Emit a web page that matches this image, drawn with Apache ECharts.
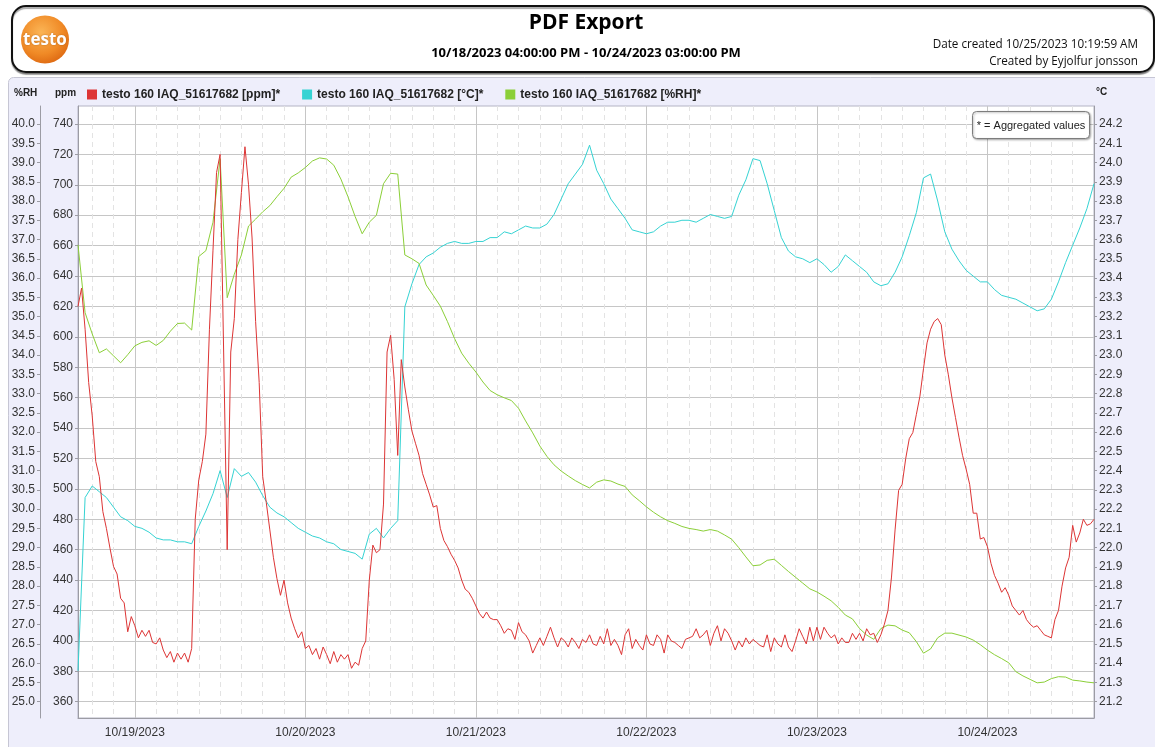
<!DOCTYPE html>
<html>
<head>
<meta charset="utf-8">
<title>PDF Export</title>
<script src="https://cdn.jsdelivr.net/npm/echarts@6/dist/echarts.min.js"></script>
<style>
  html, body { margin: 0; padding: 0; background: #ffffff; }
  #chart { width: 1155px; height: 747px; }
</style>
</head>
<body>
<div id="chart"></div>
<script>
// Logger channel names
const seriesNames = [
  'testo 160 IAQ_51617682 [ppm]*',
  'testo 160 IAQ_51617682 [°C]*',
  'testo 160 IAQ_51617682 [%RH]*'
];

// CO2 [ppm], one reading every 30 minutes from 10/18/2023 16:00
const ppmValues = [
  620, 632, 605, 570, 548, 518, 508, 485, 474, 461, 449, 444, 428, 425, 406, 416, 410, 402, 407, 403, 407, 399, 398, 402,
  394, 389, 393, 386, 392, 388, 392, 386, 395, 480, 506, 518, 536, 605, 657, 708, 720, 590, 460, 590, 612, 664, 695, 725,
  700, 665, 610, 570, 508, 491, 473, 455, 441, 430, 440, 425, 415, 408, 402, 406, 395, 397, 391, 395, 388, 396, 391, 385,
  393, 386, 391, 388, 391, 382, 386, 384, 395, 400, 440, 463, 458, 460, 490, 590, 601, 572, 522, 585, 567, 552, 538, 530,
  522, 510, 503, 496, 488, 489, 474, 466, 462, 457, 453, 448, 440, 434, 432, 428, 423, 418, 415, 419, 415, 414, 414, 410,
  405, 408, 407, 401, 412, 406, 404, 400, 392, 397, 402, 397, 403, 409, 402, 396, 402, 400, 396, 402, 399, 395, 401, 399,
  404, 398, 397, 403, 398, 408, 397, 401, 397, 391, 404, 408, 395, 401, 397, 394, 404, 398, 397, 404, 401, 392, 404, 400,
  399, 397, 395, 401, 402, 403, 408, 402, 404, 407, 397, 405, 410, 400, 408, 405, 400, 394, 400, 396, 402, 398, 401, 399,
  397, 396, 404, 393, 402, 398, 396, 404, 396, 393, 400, 408, 403, 398, 409, 400, 409, 401, 409, 405, 402, 404, 398, 402,
  399, 399, 405, 401, 405, 400, 408, 404, 405, 399, 404, 411, 420, 442, 473, 499, 503, 520, 533, 537, 549, 561, 579, 596,
  605, 610, 612, 608, 588, 575, 560, 547, 534, 522, 513, 503, 484, 484, 467, 468, 462, 451, 443, 438, 432, 435, 430, 423,
  420, 417, 420, 414, 411, 409, 410, 407, 404, 403, 402, 414, 420, 436, 448, 455, 476, 465, 471, 480, 476, 477, 480
];

// Temperature [°C], hourly from 10/18/2023 16:00
const tempValues = [
  21.36, 22.26, 22.32, 22.29, 22.26, 22.21, 22.16, 22.14, 22.11, 22.10, 22.08, 22.05,
  22.04, 22.04, 22.03, 22.03, 22.02, 22.11, 22.19, 22.28, 22.40, 22.26, 22.41, 22.37,
  22.39, 22.34, 22.27, 22.21, 22.18, 22.16, 22.13, 22.10, 22.08, 22.06, 22.05, 22.03,
  22.02, 21.99, 21.98, 21.97, 21.94, 22.07, 22.10, 22.05, 22.10, 22.14, 23.25, 23.37,
  23.47, 23.51, 23.53, 23.56, 23.58, 23.59, 23.58, 23.58, 23.59, 23.59, 23.61, 23.61,
  23.64, 23.63, 23.65, 23.67, 23.66, 23.66, 23.68, 23.73, 23.81, 23.89, 23.94, 23.99,
  24.09, 23.96, 23.89, 23.81, 23.76, 23.71, 23.65, 23.64, 23.63, 23.64, 23.67, 23.69,
  23.69, 23.70, 23.70, 23.69, 23.71, 23.73, 23.72, 23.71, 23.72, 23.83, 23.91, 24.02,
  24.01, 23.89, 23.75, 23.61, 23.54, 23.51, 23.50, 23.48, 23.50, 23.47, 23.43, 23.46,
  23.52, 23.49, 23.46, 23.43, 23.38, 23.36, 23.37, 23.43, 23.51, 23.62, 23.74, 23.92,
  23.94, 23.80, 23.64, 23.55, 23.49, 23.44, 23.41, 23.38, 23.38, 23.34, 23.31, 23.30,
  23.29, 23.27, 23.25, 23.23, 23.24, 23.29, 23.38, 23.48, 23.57, 23.66, 23.76, 23.89
];

// Relative humidity [%RH], hourly from 10/18/2023 16:00
const rhValues = [
  36.86, 35.10, 34.55, 34.06, 34.16, 33.98, 33.80, 34.01, 34.24, 34.33, 34.37, 34.25,
  34.38, 34.62, 34.82, 34.83, 34.65, 36.56, 36.71, 37.45, 39.10, 35.49, 36.10, 36.60,
  37.35, 37.53, 37.72, 37.88, 38.11, 38.33, 38.62, 38.73, 38.87, 39.04, 39.12, 39.09,
  38.93, 38.57, 38.11, 37.60, 37.15, 37.45, 37.63, 38.45, 38.72, 38.70, 36.60, 36.50,
  36.38, 35.82, 35.55, 35.27, 34.87, 34.43, 34.05, 33.79, 33.56, 33.30, 33.08, 32.97,
  32.89, 32.82, 32.62, 32.29, 31.98, 31.64, 31.37, 31.15, 30.99, 30.86, 30.74, 30.64,
  30.55, 30.70, 30.76, 30.73, 30.65, 30.59, 30.37, 30.22, 30.06, 29.92, 29.80, 29.70,
  29.63, 29.55, 29.50, 29.47, 29.43, 29.47, 29.43, 29.33, 29.22, 29.00, 28.76, 28.53,
  28.55, 28.67, 28.70, 28.54, 28.38, 28.23, 28.08, 27.93, 27.85, 27.74, 27.62, 27.45,
  27.25, 27.15, 26.90, 26.73, 26.62, 26.90, 26.99, 26.97, 26.86, 26.79, 26.56, 26.26,
  26.37, 26.66, 26.78, 26.78, 26.73, 26.68, 26.60, 26.48, 26.34, 26.22, 26.12, 26.01,
  25.78, 25.67, 25.58, 25.49, 25.51, 25.60, 25.65, 25.64, 25.56, 25.54, 25.51, 25.49
];

// Axis tick labels
const ppmTicks = [360, 380, 400, 420, 440, 460, 480, 500, 520, 540, 560, 580, 600, 620, 640, 660, 680, 700, 720, 740];
const rhTicks = [25.0, 25.5, 26.0, 26.5, 27.0, 27.5, 28.0, 28.5, 29.0, 29.5, 30.0, 30.5, 31.0, 31.5, 32.0, 32.5,
                 33.0, 33.5, 34.0, 34.5, 35.0, 35.5, 36.0, 36.5, 37.0, 37.5, 38.0, 38.5, 39.0, 39.5, 40.0];
const tempTicks = [21.2, 21.3, 21.4, 21.5, 21.6, 21.7, 21.8, 21.9, 22.0, 22.1, 22.2, 22.3, 22.4, 22.5, 22.6, 22.7,
                   22.8, 22.9, 23.0, 23.1, 23.2, 23.3, 23.4, 23.5, 23.6, 23.7, 23.8, 23.9, 24.0, 24.1, 24.2];
const dayTicks = [19, 20, 21, 22, 23, 24].map(d => new Date(2023, 9, d).getTime());

const START = new Date(2023, 9, 18, 16, 0, 0).getTime();
const END = new Date(2023, 9, 24, 15, 0, 0).getTime();
const HOUR = 3600 * 1000;

// dashed guide lines every 3 hours between the day lines
const threeHourTicks = [];
for (let t = new Date(2023, 9, 18, 18).getTime(); t <= END; t += 3 * HOUR) {
  if (new Date(t).getHours() !== 0) threeHourTicks.push(t);
}

const ppmData = ppmValues.map((v, i) => [START + i * HOUR / 2, v]);
const tempData = tempValues.map((v, i) => [START + i * HOUR, v]);
const rhData = rhValues.map((v, i) => [START + i * HOUR, v]);

const pad = n => (n < 10 ? '0' : '') + n;
const fmtDay = v => { const d = new Date(v); return pad(d.getMonth() + 1) + '/' + pad(d.getDate()) + '/' + d.getFullYear(); };

const AXIS_GREY = '#9c9ca4';
const LABEL_FONT = { color: '#333333', fontSize: 12, fontFamily: '"Liberation Sans", Arial, sans-serif' };

const chart = echarts.init(document.getElementById('chart'), null, { renderer: 'canvas' });

chart.setOption({
  animation: false,
  backgroundColor: 'transparent',
  color: ['#dd3535', '#35d3d3', '#8bcf38'],
  grid: {
    left: 78, right: 61, top: 106, bottom: 29,
    show: true, backgroundColor: '#ffffff', borderColor: '#b4b4c4', borderWidth: 1
  },
  legend: {
    left: 87, top: 88.5, padding: 0,
    icon: 'rect', itemWidth: 10, itemHeight: 10, itemGap: 22,
    textStyle: { color: '#222222', fontSize: 12, fontWeight: 'bold', fontFamily: '"Liberation Sans", Arial, sans-serif' },
    data: seriesNames
  },
  xAxis: [
    {
      type: 'value', min: START, max: END, scale: true,
      axisLine: { show: true, onZero: false, lineStyle: { color: AXIS_GREY } },
      axisTick: { show: false, customValues: dayTicks },
      axisLabel: Object.assign({ customValues: dayTicks, formatter: fmtDay, margin: 9 }, LABEL_FONT),
      splitLine: { show: true, lineStyle: { color: '#c6c6c6', width: 1 } }
    },
    {
      type: 'value', min: START, max: END, scale: true, position: 'top',
      axisLine: { show: false, onZero: false },
      axisTick: { show: false, customValues: threeHourTicks },
      axisLabel: { show: false, customValues: threeHourTicks },
      splitLine: { show: true, lineStyle: { color: '#e3e3e3', width: 1, type: [5, 4] } }
    }
  ],
  yAxis: [
    {
      type: 'value', position: 'left', min: 349.3, max: 751.8,
      axisLine: { show: true, onZero: false, lineStyle: { color: AXIS_GREY } },
      axisTick: { show: true, length: 3, customValues: ppmTicks, lineStyle: { color: AXIS_GREY } },
      axisLabel: Object.assign({ customValues: ppmTicks, margin: 5 }, LABEL_FONT),
      splitLine: { show: true, lineStyle: { color: '#c6c6c6', width: 1 } }
    },
    {
      type: 'value', position: 'left', offset: 38, min: 24.577, max: 40.467,
      axisLine: { show: true, onZero: false, lineStyle: { color: AXIS_GREY } },
      axisTick: { show: true, length: 3, customValues: rhTicks, lineStyle: { color: AXIS_GREY } },
      axisLabel: Object.assign({ customValues: rhTicks, margin: 5, formatter: v => v.toFixed(1) }, LABEL_FONT),
      splitLine: { show: false }
    },
    {
      type: 'value', position: 'right', min: 21.115, max: 24.2935,
      axisLine: { show: true, onZero: false, lineStyle: { color: AXIS_GREY } },
      axisTick: { show: true, length: 3, customValues: tempTicks, lineStyle: { color: AXIS_GREY } },
      axisLabel: Object.assign({ customValues: tempTicks, margin: 5, formatter: v => v.toFixed(1) }, LABEL_FONT),
      splitLine: { show: false }
    }
  ],
  series: [
    {
      name: seriesNames[0], type: 'line', xAxisIndex: 0, yAxisIndex: 0, data: ppmData,
      showSymbol: false, symbol: 'none', lineStyle: { width: 1 }, z: 3
    },
    {
      name: seriesNames[1], type: 'line', xAxisIndex: 0, yAxisIndex: 2, data: tempData,
      showSymbol: false, symbol: 'none', lineStyle: { width: 1 }, z: 2
    },
    {
      name: seriesNames[2], type: 'line', xAxisIndex: 0, yAxisIndex: 1, data: rhData,
      showSymbol: false, symbol: 'none', lineStyle: { width: 1 }, z: 2
    }
  ],
  graphic: [
    // chart panel
    { type: 'rect', z: -10, silent: true,
      shape: { x: 8.5, y: 77.5, width: 1160, height: 700, r: 5 },
      style: { fill: '#eeeefb', stroke: '#c6c6d4', lineWidth: 1 } },
    // report header
    { type: 'rect', z: 5, silent: true,
      shape: { x: 12, y: 6, width: 1142, height: 66, r: 14 },
      style: { fill: '#ffffff', stroke: '#111111', lineWidth: 2,
               shadowColor: 'rgba(0,0,0,0.35)', shadowBlur: 1, shadowOffsetX: 0, shadowOffsetY: 2 } },
    { type: 'circle', z: 6, silent: true,
      shape: { cx: 45, cy: 39.5, r: 24 },
      style: { fill: { type: 'radial', x: 0.42, y: 0.35, r: 0.75,
                       colorStops: [{ offset: 0, color: '#fbb556' }, { offset: 0.6, color: '#f08a26' }, { offset: 1, color: '#d9600c' }] } } },
    { type: 'text', z: 7, silent: true, x: 45, y: 40,
      style: { text: 'testo', fill: '#ffffff', font: 'bold 17px "Open Sans", sans-serif', align: 'center', verticalAlign: 'middle',
               textShadowColor: 'rgba(120,50,0,0.5)', textShadowBlur: 2 } },
    { type: 'text', z: 7, silent: true, x: 586, y: 23,
      style: { text: 'PDF Export', fill: '#000000', font: 'bold 21px "Open Sans", sans-serif', align: 'center', verticalAlign: 'middle' } },
    { type: 'text', z: 7, silent: true, x: 586, y: 53.5,
      style: { text: '10/18/2023 04:00:00 PM - 10/24/2023 03:00:00 PM', fill: '#000000', font: 'bold 13px "Open Sans", sans-serif', align: 'center', verticalAlign: 'middle' } },
    { type: 'text', z: 7, silent: true, x: 1138, y: 44.5,
      style: { text: 'Date created 10/25/2023 10:19:59 AM', fill: '#111111', font: '11.7px "Open Sans", sans-serif', align: 'right', verticalAlign: 'middle' } },
    { type: 'text', z: 7, silent: true, x: 1138, y: 61.5,
      style: { text: 'Created by Eyjolfur jonsson', fill: '#111111', font: '11.7px "Open Sans", sans-serif', align: 'right', verticalAlign: 'middle' } },
    // axis units
    { type: 'text', z: 7, silent: true, x: 14, y: 93,
      style: { text: '%RH', fill: '#222222', font: 'bold 10px "Liberation Sans", Arial, sans-serif', align: 'left', verticalAlign: 'middle' } },
    { type: 'text', z: 7, silent: true, x: 55, y: 93,
      style: { text: 'ppm', fill: '#222222', font: 'bold 10px "Liberation Sans", Arial, sans-serif', align: 'left', verticalAlign: 'middle' } },
    { type: 'text', z: 7, silent: true, x: 1096, y: 92,
      style: { text: '°C', fill: '#222222', font: 'bold 10px "Liberation Sans", Arial, sans-serif', align: 'left', verticalAlign: 'middle' } },
    // note box
    { type: 'rect', z: 20, silent: true,
      shape: { x: 972.5, y: 111.5, width: 117, height: 27, r: 4 },
      style: { fill: '#ffffff', stroke: '#7d7d7d', lineWidth: 1,
               shadowColor: 'rgba(0,0,0,0.3)', shadowBlur: 2, shadowOffsetX: 1, shadowOffsetY: 1 } },
    { type: 'text', z: 21, silent: true, x: 1031, y: 125.5,
      style: { text: '* = Aggregated values', fill: '#222222', font: '11px "Liberation Sans", Arial, sans-serif', align: 'center', verticalAlign: 'middle' } }
  ]
});
</script>
</body>
</html>
